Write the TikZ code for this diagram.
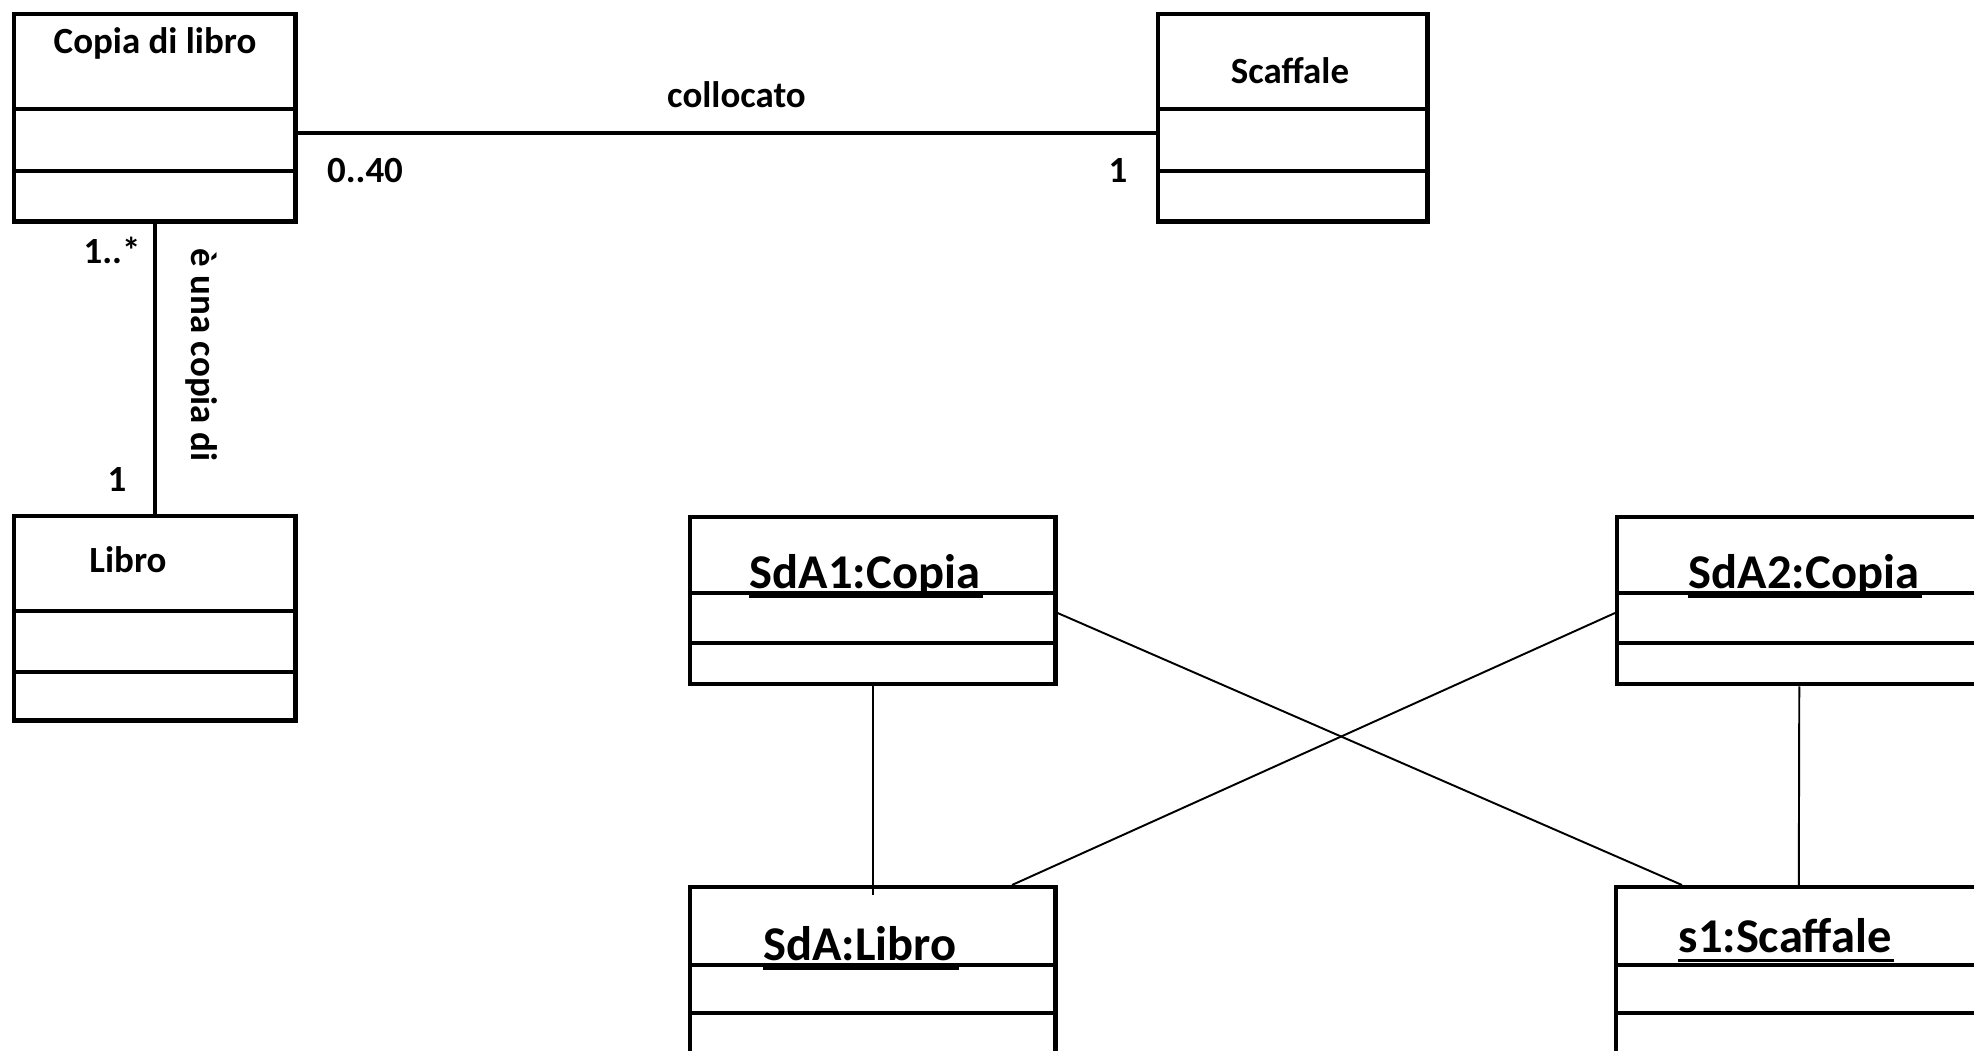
\documentclass[tikz,border=0pt]{standalone}
\usepackage{fontspec}
\setmainfont{Carlito}
\usepackage{tikz}
\usetikzlibrary{calc}

\tikzset{
  umlbox/.style={draw, line width=1.25pt, anchor=north west, inner sep=0pt},
  assoc/.style={line width=1.25pt},
  link/.style={line width=0.55pt},
  cname/.style={font=\fontsize{10.5}{12}\selectfont\bfseries, anchor=base, inner sep=0pt},
  oname/.style={font=\fontsize{13.8}{16}\selectfont\bfseries, anchor=base, inner sep=0pt},
}

\begin{document}
\begin{tikzpicture}[x=0.01cm, y=-0.01cm]
  \useasboundingbox (0,0) rectangle (1974,1051);
  \clip (0,0) rectangle (1974,1051);

  % class diagram
  \node[umlbox, minimum width=2.81cm, minimum height=2.07cm] (copia) at (12,12) {};
  \node[umlbox, minimum width=2.69cm, minimum height=2.07cm] (scaffale) at (1156,12) {};
  \node[umlbox, minimum width=2.81cm, minimum height=2.04cm] (libro) at (12,514) {};

  % object diagram (boxes run past the page edge)
  \node[umlbox, minimum width=3.65cm, minimum height=1.67cm] (sda1) at (688,515) {};
  \node[umlbox, minimum width=3.64cm, minimum height=1.67cm] (sda2) at (1615,515) {};
  \node[umlbox, minimum width=3.65cm, minimum height=1.70cm] (sdalibro) at (688,885) {};
  \node[umlbox, minimum width=3.65cm, minimum height=1.70cm] (s1) at (1614,885) {};

  % compartment lines
  \foreach \n/\a/\b in {copia/97/159, scaffale/97/159, libro/97/158,
                        sda1/78/128, sda2/78/128, sdalibro/80/128, s1/80/128}{
    \draw[assoc] ($(\n.north west)+(0,\a)$) -- ($(\n.north east)+(0,\a)$);
    \draw[assoc] ($(\n.north west)+(0,\b)$) -- ($(\n.north east)+(0,\b)$);
  }

  % class names
  \node[cname] (tcopia) at (155,53) {Copia di libro};
  \node[cname] (tscaffale) at (1290,83) {Scaffale};
  \node[cname] (tlibro) at (128,572) {Libro};

  % associations
  \draw[assoc] ($(copia.north east)+(0,121)$) -- ($(scaffale.north west)+(0,121)$);
  \draw[assoc] (copia.south) -- (libro.north);
  \node[cname] (collocato) at (736.5,107) {collocato};
  \node[cname] (m040) at (365,182) {0..40};
  \node[cname] (m1a) at (1118,182) {1};
  \node[cname] (mstar) at (112,263) {1..*};
  \node[cname] (m1b) at (117,491) {1};
  \node[cname, rotate=-90] (copiadi) at (192,355) {è una copia di};

  % object names, underlined
  \node[oname] (osda1) at (865,588) {SdA1:Copia};
  \node[oname] (osda2) at (1804,588) {SdA2:Copia};
  \node[oname] (osdalibro) at (860,960) {SdA:Libro};
  \node[oname] (os1) at (1785,952) {s1:Scaffale};
  \foreach \t in {osda1, osda2, osdalibro, os1}
    \draw[line width=0.85pt] ($(\t.base west)+(0,8)$) -- ($(\t.base east)+(2,8)$);

  % links
  \draw[link] ($(sda1.north east)+(0,98)$) -- ($(s1.north west)+(68,0)$);
  \draw[link] ($(sda2.north west)+(0,98)$) -- ($(sdalibro.north west)+(324,0)$);
  \draw[link] (sda1.south) -- ($(sdalibro.north)+(0,10)$);
  \draw[link] (sda2.south) -- (s1.north);
\end{tikzpicture}
\end{document}
